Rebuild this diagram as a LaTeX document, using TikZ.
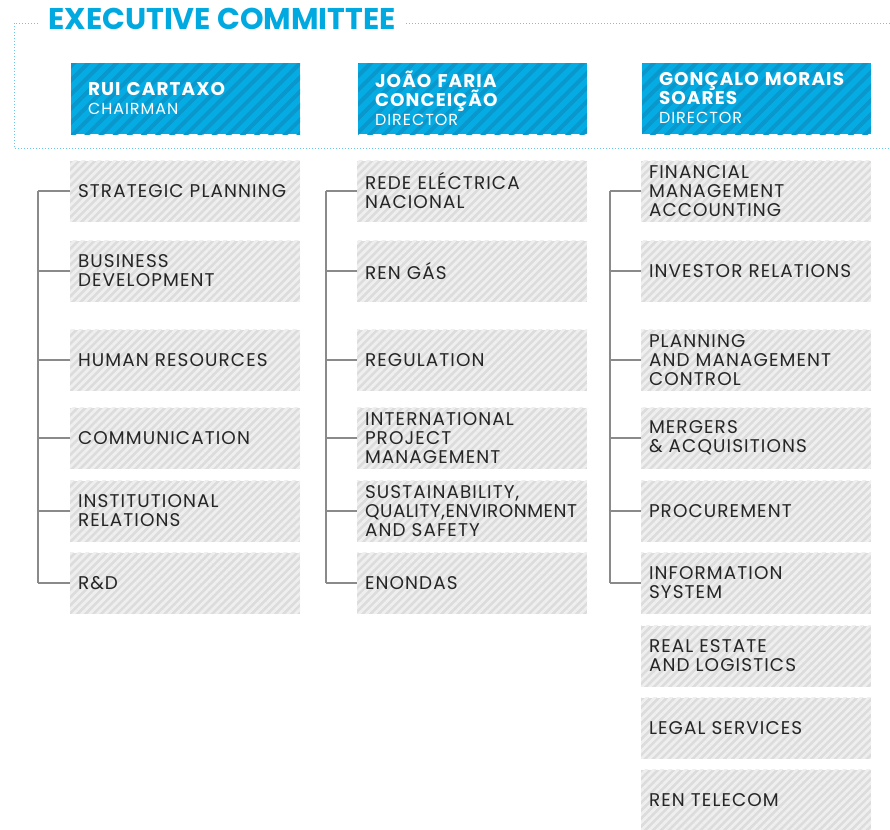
\documentclass[tikz,border=0pt]{standalone}
\usepackage{fontspec}
\setmainfont{Poppins}[LetterSpace=6]
\usetikzlibrary{patterns.meta}
\definecolor{renblue}{HTML}{00A9E0}
\definecolor{boxblue}{HTML}{05ACE4}
\definecolor{renbluedark}{HTML}{0A97CC}
\definecolor{greybase}{HTML}{DCDCDC}
\definecolor{greystripe}{HTML}{EFEFEF}
\definecolor{linegrey}{HTML}{8A8A8A}
\definecolor{dotblue}{HTML}{6CC6EC}
\tikzset{
  unitbox/.style={minimum width=115pt, minimum height=30.5pt, text width=107pt,
    inner xsep=4pt, inner ysep=0pt, align=left, fill=greybase,
    postaction={pattern={Lines[angle=45,distance=2.8pt,line width=1.4pt]}, pattern color=greystripe},
    font=\fontsize{9.2}{9.5}\selectfont, text=black!85},
  headbox/.style={minimum width=114.5pt, minimum height=35.5pt, text width=97.5pt,
    inner xsep=8.5pt, inner ysep=0pt, align=left, fill=boxblue,
    postaction={pattern={Lines[angle=45,distance=5pt,line width=2pt]}, pattern color=renbluedark},
    font=\fontsize{9.2}{9.5}\selectfont\bfseries, text=white},
  conn/.style={draw=linegrey, line width=0.6pt},
  frame/.style={draw=dotblue, densely dotted, line width=0.5pt}
}
\newcommand{\rolefont}{\fontsize{8}{9.5}\selectfont\mdseries}
\begin{document}
\begin{tikzpicture}[x=0.5pt,y=-0.5pt]
\useasboundingbox (0,0) rectangle (890,830);
% title and frame
\node[anchor=base west, inner sep=0pt, text=renblue, font=\fontsize{15}{15}\selectfont\bfseries\addfontfeatures{LetterSpace=0}] (title) at (48,30) {EXECUTIVE COMMITTEE};
\coordinate (fa) at (38,23);
\coordinate (fb) at (406,23);
\coordinate (fc) at (890,23);
\coordinate (fd) at (14,148);
\coordinate (fe) at (890,148);
\draw[frame] (fa) -- (fa -| fd) -- (fd) -- (fe);
\draw[frame] (fb) -- (fc);
% header boxes
\node[headbox] (h1) at (185.5,98.5) {RUI CARTAXO\\{\rolefont CHAIRMAN}};
\node[headbox] (h2) at (472.5,98.5) {JOÃO FARIA\\CONCEIÇÃO\\{\rolefont DIRECTOR}};
\node[headbox] (h3) at (756.5,98.5) {GONÇALO MORAIS\\SOARES\\{\rolefont DIRECTOR}};
% column 1
\node[unitbox] (a1) at (185,191) {STRATEGIC PLANNING};
\node[unitbox] (a2) at (185,271) {BUSINESS\\DEVELOPMENT};
\node[unitbox] (a3) at (185,360) {HUMAN RESOURCES};
\node[unitbox] (a4) at (185,438) {COMMUNICATION};
\node[unitbox] (a5) at (185,511) {INSTITUTIONAL\\RELATIONS};
\node[unitbox] (a6) at (185,583) {R\&D};
% column 2
\node[unitbox] (b1) at (472,191) {REDE ELÉCTRICA\\NACIONAL};
\node[unitbox] (b2) at (472,271) {REN GÁS};
\node[unitbox] (b3) at (472,360) {REGULATION};
\node[unitbox] (b4) at (472,438) {INTERNATIONAL\\PROJECT\\MANAGEMENT};
\node[unitbox] (b5) at (472,511) {SUSTAINABILITY,\\{\addfontfeatures{LetterSpace=3}QUALITY,ENVIRONMENT}\\AND SAFETY};
\node[unitbox] (b6) at (472,583) {ENONDAS};
% column 3
\node[unitbox] (c1) at (756,191) {FINANCIAL\\MANAGEMENT\\ACCOUNTING};
\node[unitbox] (c2) at (756,271) {INVESTOR RELATIONS};
\node[unitbox] (c3) at (756,360) {PLANNING\\AND MANAGEMENT\\CONTROL};
\node[unitbox] (c4) at (756,438) {MERGERS\\\&\ ACQUISITIONS};
\node[unitbox] (c5) at (756,511) {PROCUREMENT};
\node[unitbox] (c6) at (756,583) {INFORMATION\\SYSTEM};
\node[unitbox] (c7) at (756,656) {REAL ESTATE\\AND LOGISTICS};
\node[unitbox] (c8) at (756,728) {LEGAL SERVICES};
\node[unitbox] (c9) at (756,800) {REN TELECOM};
% connectors
\coordinate (t1) at (38,0);
\coordinate (t2) at (326,0);
\coordinate (t3) at (610,0);
\draw[conn] (t1 |- a1.west) -- (t1 |- a6.west);
\draw[conn] (t2 |- b1.west) -- (t2 |- b6.west);
\draw[conn] (t3 |- c1.west) -- (t3 |- c6.west);
\foreach \n in {a1,a2,a3,a4,a5,a6} { \draw[conn] (t1 |- \n.west) -- (\n.west); }
\foreach \n in {b1,b2,b3,b4,b5,b6} { \draw[conn] (t2 |- \n.west) -- (\n.west); }
\foreach \n in {c1,c2,c3,c4,c5,c6} { \draw[conn] (t3 |- \n.west) -- (\n.west); }
\end{tikzpicture}
\end{document}
